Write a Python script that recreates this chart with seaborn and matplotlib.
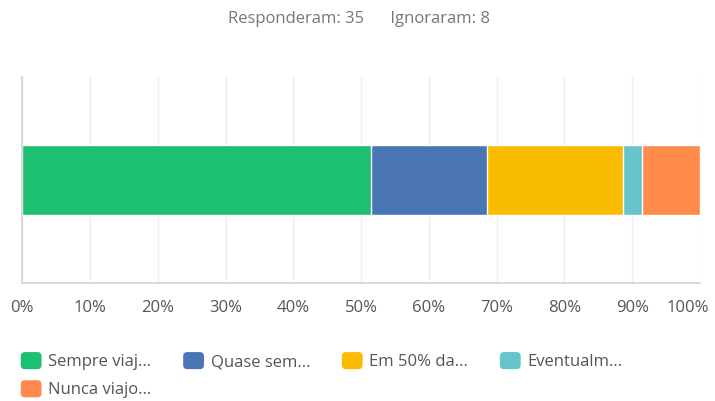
import matplotlib
matplotlib.use("Agg")
import matplotlib.pyplot as plt
import matplotlib.transforms as mtransforms
import seaborn as sns
import pandas as pd
from matplotlib.patches import Patch, FancyBboxPatch
from matplotlib.legend_handler import HandlerPatch
from matplotlib.ticker import FuncFormatter

# answer labels (truncated as in the original) and shares in percent
labels = ["Sempre viaj...", "Quase sem...", "Em 50% da...", "Eventualm...", "Nunca viajo..."]
shares = [51.43, 17.14, 20.0, 2.86, 8.57]
colors = ["#1dbf73", "#4a77b4", "#f9bc00", "#65c4cc", "#ff8a4c"]
answered = 35
skipped = 8

df = pd.DataFrame({"answer": labels, "share": shares})
df["cum"] = df["share"].cumsum()
df["row"] = ""

sns.set_theme(style="white")
plt.rcParams["font.family"] = ["Open Sans", "DejaVu Sans"]

fig = plt.figure(figsize=(7.15, 4.01), dpi=100)
ax = fig.add_axes([0.031, 0.294, 0.948, 0.514])

# stacked bar: draw the cumulative totals from the longest to the shortest
for i in reversed(range(len(df))):
    sns.barplot(data=df.iloc[[i]], x="cum", y="row", color=colors[i],
                width=0.34, saturation=1, orient="h", ax=ax)

ax.set_xlim(0, 100)
ax.set_ylim(0.5, -0.5)
ax.set_xticks(range(0, 101, 10))
ax.xaxis.set_major_formatter(FuncFormatter(lambda v, p: f"{int(v)}%"))
ax.set_yticks([])
ax.set_xlabel("")
ax.set_ylabel("")
ax.grid(axis="x", color="#eeeeee", linewidth=1)
ax.set_axisbelow(True)
for s in ["top", "right"]:
    ax.spines[s].set_visible(False)
ax.spines["left"].set_color("#d5d5d5")
ax.spines["bottom"].set_color("#d5d5d5")
ax.tick_params(axis="x", length=0, pad=12, labelsize=12, labelcolor="#555555")

# keep the last tick label inside the figure
last = ax.get_xticklabels()[-1]
last.set_transform(last.get_transform() +
                   mtransforms.ScaledTranslation(-12 / 100, 0, fig.dpi_scale_trans))

fig.text(0.502, 0.952, f"Responderam: {answered}      Ignoraram: {skipped}",
         ha="center", va="center", fontsize=12, color="#777777")


class RoundBox(HandlerPatch):
    def create_artists(self, legend, orig_handle, xdescent, ydescent,
                       width, height, fontsize, trans):
        p = FancyBboxPatch((-xdescent, -ydescent), width, height,
                           boxstyle="round,pad=0,rounding_size=3",
                           facecolor=orig_handle.get_facecolor(), edgecolor="none",
                           transform=trans)
        return [p]


handles = [Patch(facecolor=c, edgecolor="none", label=l) for c, l in zip(colors, labels)]
# legend fills column by column, so reorder to read row by row
order = [0, 4, 1, 2, 3]
fig.legend(handles=[handles[k] for k in order], loc="upper left",
           bbox_to_anchor=(0.029, 0.122), ncol=4,
           frameon=False, fontsize=12, handlelength=1.25, handleheight=1.2,
           handletextpad=0.4, columnspacing=1.9, labelspacing=0.6, borderpad=0,
           borderaxespad=0, labelcolor="#555555",
           handler_map={Patch: RoundBox()})

fig.savefig("out.png", dpi=100)
